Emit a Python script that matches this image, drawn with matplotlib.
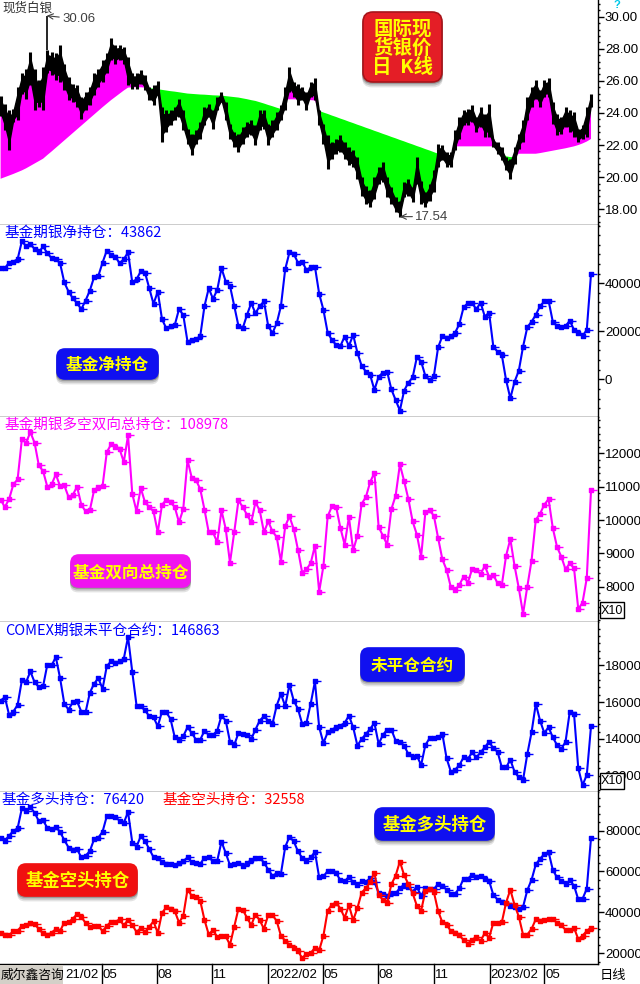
import numpy as np
import pandas as pd
import matplotlib
matplotlib.use('Agg')
import matplotlib.pyplot as plt
import matplotlib.dates as mdates
import matplotlib.transforms as mtrans
from matplotlib.patches import FancyBboxPatch, Rectangle
from matplotlib.ticker import MultipleLocator, FixedLocator, FuncFormatter
from matplotlib.path import Path

plt.rcParams['font.family'] = ['Noto Sans CJK SC', 'DejaVu Sans']

# ---------------- data (weekly, starting 2020-11-17) ----------------
week_start = '2020-11-17'

price_high = [25.04, 24.58, 24.17, 24.27, 25.63, 26.46, 26.77, 27.81, 26.77, 26.04,
              26.88, 27.90, 27.81, 27.71, 28.23, 27.08, 26.25, 25.83, 25.73, 25.00,
              25.31, 25.63, 26.46, 26.77, 27.29, 27.71, 28.65, 28.23, 28.23, 28.13,
              27.50, 26.46, 26.46, 26.67, 26.35, 25.63, 25.73, 26.00, 24.38, 24.17,
              24.17, 24.38, 24.90, 24.17, 23.02, 22.71, 22.92, 23.44, 24.38, 24.58,
              24.17, 25.00, 25.31, 24.69, 23.33, 22.81, 22.71, 23.13, 23.44, 23.54,
              23.23, 24.17, 24.17, 23.33, 23.54, 24.06, 24.48, 25.63, 26.88, 25.94,
              25.83, 25.63, 25.31, 25.94, 26.15, 24.17, 23.33, 22.60, 22.19, 22.40,
              22.60, 22.19, 21.88, 21.67, 21.25, 20.00, 19.48, 19.17, 20.00, 20.63,
              20.94, 20.00, 19.38, 18.75, 18.54, 19.69, 19.90, 19.38, 21.25, 19.79,
              19.06, 19.58, 20.42, 22.08, 21.98, 21.56, 21.56, 22.92, 23.75, 24.17,
              24.27, 24.48, 23.75, 24.38, 23.96, 24.58, 22.40, 22.19, 21.88, 21.25,
              21.15, 21.88, 22.71, 23.54, 25.00, 25.63, 26.04, 25.42, 26.04, 26.15,
              24.69, 23.96, 23.75, 24.38, 24.17, 24.06, 23.02, 23.23, 24.38, 25.21]

price_low = [23.79, 22.92, 21.67, 23.44, 23.54, 25.21, 24.90, 25.73, 24.17, 24.38,
             24.17, 26.46, 26.35, 26.04, 25.94, 25.42, 24.79, 24.69, 24.38, 23.65,
             24.17, 24.48, 25.10, 25.63, 25.94, 26.46, 27.29, 27.08, 27.29, 27.08,
             25.73, 25.52, 25.52, 25.83, 25.42, 24.79, 24.48, 25.10, 22.19, 22.81,
             23.23, 23.54, 23.75, 22.92, 22.08, 21.35, 22.08, 22.40, 23.23, 23.75,
             23.02, 24.17, 24.69, 23.54, 22.40, 21.88, 21.56, 22.08, 22.50, 22.60,
             21.98, 22.92, 23.02, 21.98, 22.50, 22.92, 23.54, 24.17, 25.31, 25.00,
             24.48, 24.79, 24.17, 25.00, 24.79, 23.23, 22.08, 20.52, 21.15, 21.46,
             21.56, 21.15, 20.73, 20.63, 19.90, 18.85, 18.33, 18.13, 18.65, 19.58,
             19.69, 18.75, 18.33, 17.81, 17.54, 18.75, 18.85, 18.44, 19.58, 18.33,
             18.13, 18.54, 19.06, 20.63, 21.04, 20.63, 20.63, 21.67, 22.40, 23.23,
             23.23, 23.44, 22.81, 23.13, 22.50, 22.50, 21.88, 21.46, 21.04, 20.42,
             19.90, 20.83, 21.77, 22.19, 23.54, 24.38, 24.90, 24.38, 25.00, 25.00,
             23.33, 22.60, 22.71, 23.13, 22.81, 22.50, 22.19, 22.40, 22.50, 24.38]

trend_line = [19.90, 20.00, 20.10, 20.20, 20.31, 20.42, 20.55, 20.70, 20.85, 21.00,
              21.15, 21.38, 21.60, 21.83, 22.06, 22.29, 22.52, 22.75, 22.98, 23.21,
              23.44, 23.67, 23.90, 24.13, 24.36, 24.58, 24.80, 25.00, 25.20, 25.40,
              25.58, 25.60, 25.60, 25.60, 25.58,
              25.55, 25.52, 25.48, 25.44, 25.40, 25.36, 25.33, 25.29, 25.25, 25.21,
              25.19, 25.17, 25.15, 25.14, 25.12, 25.10, 25.09, 25.08, 25.05, 25.02,
              24.99, 24.96, 24.91, 24.86, 24.80, 24.75, 24.67, 24.59, 24.50, 24.42,
              24.33, 24.25,
              24.85, 24.85, 24.85, 24.85, 24.82, 24.80, 24.80, 24.78,
              24.13, 24.03, 23.94, 23.84, 23.75, 23.65, 23.56, 23.46, 23.37, 23.27,
              23.18, 23.08, 22.99, 22.89, 22.80, 22.70, 22.61, 22.51, 22.42, 22.32,
              22.23, 22.13, 22.04, 21.94, 21.85, 21.75, 21.66, 21.56, 21.46,
              21.45, 21.05, 21.05,
              21.92, 21.92, 21.92, 21.92, 21.92, 21.92, 21.92, 21.92, 21.92, 21.92,
              21.92, 21.50, 21.30, 21.25, 21.25,
              21.46, 21.46, 21.46, 21.46, 21.46,
              21.50, 21.55, 21.60, 21.65, 21.70, 21.75, 21.80, 21.86, 21.92, 22.00,
              22.10, 22.22, 22.38]

spike_date, spike_high = '2021-02-01', 30.06

fund_net = [46250, 46250, 48600, 49000, 50000, 57400, 55500, 56400, 54200, 52800,
            55300, 52500, 50400, 50100, 48300, 40300, 36500, 33750, 31700, 29200,
            32800, 36900, 42500, 43000, 48600, 53600, 51800, 51100, 48300, 50000,
            52800, 40300, 41700, 44900, 44400, 37900, 31400, 36500, 25000, 21250,
            22200, 22600, 29200, 26800, 15700, 16400, 16700, 18000, 30500, 37900,
            33500, 37200, 46250, 40700, 38900, 30500, 22200, 21250, 26800, 31700,
            27500, 30500, 32400, 22200, 19200, 23300, 30500, 45800, 52800, 52200,
            48600, 49000, 45500, 46700, 46900, 35600, 28900, 19400, 16400, 14300,
            13900, 17800, 13900, 18500, 11100, 5600, 3200, 1800, -4400, 1100,
            2800, 3200, -4200, -8600, -13000, -4700, -1400, 800, 9200, 7400,
            1400, -300, 1400, 13300, 18000, 17100, 18000, 19400, 23000, 30000,
            31700, 31700, 29200, 31900, 26100, 27800, 13600, 11500, 10100, -300,
            -7900, -1000, 3600, 13600, 21700, 24000, 26800, 30500, 32400, 32800,
            24000, 22200, 21700, 22200, 24400, 20600, 19400, 18000, 20600, 43862]

fund_total = [106100, 103900, 106300, 110700, 112200, 124200, 123200, 126400, 123200, 116400,
              114700, 110000, 110700, 113700, 110200, 110400, 106900, 107600, 110000, 104600,
              102600, 102900, 108900, 110000, 110200, 120400, 122700, 122000, 121400, 117400,
              125400, 107900, 102600, 109600, 105300, 103900, 102600, 96300, 104600, 106100,
              105300, 103900, 99300, 103300, 118000, 112700, 112000, 109300, 103100, 96300,
              96300, 93300, 102900, 97300, 87200, 96300, 105900, 103900, 101600, 99300,
              105300, 102900, 96300, 99600, 96600, 94900, 87500, 98100, 101100, 97300,
              91100, 84200, 85200, 87000, 92300, 78500, 86200, 101100, 104100, 103900,
              97600, 92600, 100900, 90900, 95300, 104900, 106900, 111400, 114200, 97900,
              95300, 92600, 103300, 107300, 116700, 111700, 106300, 99600, 95600, 89000,
              102300, 102900, 101300, 94600, 88200, 85000, 79800, 79000, 80500, 83000,
              81200, 85200, 85000, 83800, 86200, 83000, 83500, 81000, 80500, 89200,
              94300, 86200, 79500, 71800, 80000, 87800, 100100, 101900, 104600, 106300,
              97600, 91900, 89000, 85200, 87000, 85500, 73200, 75200, 82500, 108978]

comex_oi = [160900, 162700, 153100, 154900, 158500, 171800, 170900, 176700, 170900, 168200,
            168700, 180400, 180000, 184500, 173100, 159100, 156000, 160000, 160400, 154900,
            154500, 165100, 170000, 173100, 167300, 179600, 182200, 181500, 182200, 183600,
            195500, 176400, 158200, 157800, 155500, 152400, 151800, 146900, 154900, 154500,
            150900, 140900, 139600, 141500, 146400, 143300, 139600, 139600, 144500, 142200,
            142200, 144500, 152700, 150000, 138500, 136700, 143300, 142700, 142200, 140000,
            145100, 150000, 152400, 150000, 148200, 158200, 164500, 157800, 169500, 160900,
            156400, 148200, 148700, 159100, 171300, 146400, 137800, 143600, 145100, 146400,
            147300, 148700, 152700, 146400, 136400, 140000, 142700, 145500, 148700, 137300,
            142200, 145100, 145100, 139100, 138500, 136400, 131800, 130000, 130900, 125800,
            136700, 140400, 140400, 140900, 142700, 129500, 122200, 123300, 125800, 130000,
            129100, 132700, 130000, 132700, 135500, 138500, 134900, 133100, 124500, 124500,
            128700, 122200, 119100, 117800, 131800, 143600, 159100, 150000, 143300, 146400,
            140900, 136700, 134500, 138500, 154900, 153600, 124000, 114900, 120400, 146863]

x_ticks = ['2021-02-01', '2021-05-03', '2021-08-02', '2021-11-01', '2022-02-01',
           '2022-05-02', '2022-08-01', '2022-11-01', '2023-02-01', '2023-05-02']
x_labels = ['21/02', '05', '08', '11', '2022/02', '05', '08', '11', '2023/02', '05']

# long / short are the two legs: net = long - short, total = long + short
fund_long = (np.array(fund_total) + np.array(fund_net)) / 2.0
fund_short = (np.array(fund_total) - np.array(fund_net)) / 2.0

def wk(arr):
    return pd.date_range(week_start, periods=len(arr), freq='7D')

# ---------------- figure ----------------
W, H = 640, 984
fig = plt.figure(figsize=(W / 100, H / 100), dpi=100)
fig.patch.set_facecolor('white')

DAYS_PER_PX = 1.648
x_left = mdates.date2num(pd.Timestamp('2020-11-16'))
x_right = x_left + 598 * DAYS_PER_PX
AXW = 598

def add_panel(top, bottom):
    return fig.add_axes([0, 1 - bottom / H, AXW / W, (bottom - top) / H])

panels = [(0, 224.5), (224.5, 416.7), (416.7, 622), (622, 791.5), (791.5, 964)]
axes = [add_panel(t, b) for t, b in panels]
ax1, ax2, ax3, ax4, ax5 = axes

TICKFONT = 'Liberation Sans'
for ax in axes:
    ax.set_xlim(x_left, x_right)
    ax.spines['left'].set_visible(False)
    ax.spines['top'].set_visible(False)
    ax.spines['right'].set_linewidth(1.0)
    ax.spines['bottom'].set_linewidth(1.0)
    ax.yaxis.tick_right()
    ax.tick_params(axis='x', which='both', bottom=False, labelbottom=False)
    ax.tick_params(axis='y', which='major', direction='out', length=4, width=1,
                   pad=1, labelsize=9.5, labelfontfamily=TICKFONT, colors='black')
    ax.tick_params(axis='y', which='minor', direction='out', length=1.5, width=1)

# ---- panel 1: silver price ----
pw = wk(price_high)
hi = np.array(price_high)
lo = np.array(price_low)
tr = np.array(trend_line)
mid = (hi + lo) / 2
rng = hi - lo
ax1.fill_between(pw, tr, mid, where=mid >= tr, interpolate=True,
                 color='#FF00FF', lw=0, zorder=1)
ax1.fill_between(pw, tr, mid, where=mid < tr, interpolate=True,
                 color='#00FF00', lw=0, zorder=1)
# candle body band + weekly wicks
ax1.fill_between(pw, lo + 0.2 * rng, hi - 0.2 * rng, color='black', lw=1.0,
                 edgecolor='black', zorder=2)
ax1.vlines(pw, lo, hi, color='black', lw=2.2, zorder=2)
ax1.vlines(pd.Timestamp(spike_date), hi[11], spike_high, color='black', lw=1.2, zorder=2)
ax1.set_ylim(17.05, 31.04)
ax1.yaxis.set_major_locator(FixedLocator([18, 20, 22, 24, 26, 28, 30]))
ax1.yaxis.set_minor_locator(MultipleLocator(0.4))
ax1.yaxis.set_major_formatter(FuncFormatter(lambda v, p: f'{v:.2f}'))
ax1.annotate(f'{spike_high:.2f}', xy=(pd.Timestamp(spike_date), spike_high),
             xytext=(11, -2.5), textcoords='offset points', ha='left', va='center',
             fontsize=9.5, family=TICKFONT, color='#404040',
             arrowprops=dict(arrowstyle='->', color='#404040', lw=0.8,
                             shrinkA=0, shrinkB=0))
kmin = int(np.argmin(lo))
ax1.annotate(f'{lo[kmin]:.2f}', xy=(pw[kmin], lo[kmin]),
             xytext=(11, 0), textcoords='offset points', ha='left', va='center',
             fontsize=9.5, family=TICKFONT, color='#404040',
             arrowprops=dict(arrowstyle='->', color='#404040', lw=0.8,
                             shrinkA=0, shrinkB=0))

# custom marker: square with a small dash to the right
mverts = [(-1, -1), (1, -1), (1, 1), (-1, 1), (-1, -1), (1, 0), (3, 0)]
mcodes = [Path.MOVETO, Path.LINETO, Path.LINETO, Path.LINETO, Path.CLOSEPOLY,
          Path.MOVETO, Path.LINETO]
MK = Path(mverts, mcodes)

def series(ax, x, y, color):
    ax.plot(x, y, color=color, lw=1.5, marker=MK, ms=8, mew=1, mfc=color, mec=color)

# ---- panel 2: net ----
series(ax2, wk(fund_net), fund_net, '#0000FF')
ax2.set_ylim(-15560, 64440)
ax2.yaxis.set_major_locator(FixedLocator([0, 20000, 40000]))
ax2.yaxis.set_minor_locator(MultipleLocator(4000))
ax2.yaxis.set_major_formatter(FuncFormatter(lambda v, p: f'{v:.0f}'))

# ---- panel 3: total (x10) ----
series(ax3, wk(fund_total), np.array(fund_total) / 10, '#FF00FF')
ax3.set_ylim(6935, 13105)
ax3.yaxis.set_major_locator(FixedLocator([8000, 9000, 10000, 11000, 12000]))
ax3.yaxis.set_minor_locator(MultipleLocator(200))
ax3.yaxis.set_major_formatter(FuncFormatter(lambda v, p: f'{v:.0f}'))

# ---- panel 4: COMEX OI (x10) ----
series(ax4, wk(comex_oi), np.array(comex_oi) / 10, '#0000FF')
ax4.set_ylim(11145, 20360)
ax4.yaxis.set_major_locator(FixedLocator([12000, 14000, 16000, 18000]))
ax4.yaxis.set_minor_locator(MultipleLocator(400))
ax4.yaxis.set_major_formatter(FuncFormatter(lambda v, p: f'{v:.0f}'))

# ---- panel 5: long / short ----
series(ax5, wk(fund_long), fund_long, '#0000FF')
series(ax5, wk(fund_short), fund_short, '#FF0000')
ax5.set_ylim(14780, 99070)
ax5.yaxis.set_major_locator(FixedLocator([20000, 40000, 60000, 80000]))
ax5.yaxis.set_minor_locator(MultipleLocator(4000))
ax5.yaxis.set_major_formatter(FuncFormatter(lambda v, p: f'{v:.0f}'))

# ---------------- x axis labels ----------------
bt = mtrans.blended_transform_factory(ax5.transData, fig.transFigure)
for d, lab in zip(x_ticks, x_labels):
    xd = mdates.date2num(pd.Timestamp(d))
    ax5.plot([xd, xd], [1 - 964 / H, 1 - 983 / H], transform=bt, color='black',
             lw=1.0, clip_on=False)
    # first label: its century digits sit under the corner tag, only "21/02" shows
    shift = 19.0 * DAYS_PER_PX if lab == '21/02' else 1.2
    ax5.text(xd + shift, 1 - 975 / H, lab, transform=bt, ha='left', va='center',
             fontsize=9.5, family=TICKFONT, color='black', clip_on=False)

# ---------------- helpers for text in pixel coords ----------------
def ptext(x, y, s, **kw):
    return fig.text(x / W, 1 - y / H, s, **kw)

def label_box(x0, y0, x1, y1, txt, fc, fs, ec=None, ls=1.0, rs=0.08):
    X, Y = x0 / 100, (H - y1) / 100
    w, h = (x1 - x0) / 100, (y1 - y0) / 100
    for i, a in enumerate([0.12, 0.18, 0.28]):
        off = (3 - i) * 0.018
        sh = FancyBboxPatch((X - 0.01, Y - off), w + 0.02, h,
                            boxstyle=f'round,pad=0,rounding_size={rs}',
                            transform=fig.dpi_scale_trans, fc='#202020', ec='none',
                            alpha=a, zorder=5)
        fig.add_artist(sh)
    main = FancyBboxPatch((X, Y), w, h, boxstyle=f'round,pad=0,rounding_size={rs}',
                          transform=fig.dpi_scale_trans, fc=fc, ec=ec or fc, lw=1.2,
                          zorder=6)
    fig.add_artist(main)
    ptext((x0 + x1) / 2, (y0 + y1) / 2 + 1, txt, ha='center', va='center',
          color='#FFFF00', fontsize=fs, fontweight='bold', linespacing=ls, zorder=7)

# price box
label_box(363, 12, 442, 82, '国际现\n货银价\n日  K线', '#E41E26', 14, ec='#A8141A',
          ls=1.0, rs=0.1)
label_box(57, 349, 158, 379, '基金净持仓', '#1010F0', 12)
label_box(71, 555, 190, 587, '基金双向总持仓', '#F014F0', 12)
label_box(361, 648, 464, 681, '未平仓合约', '#1010F0', 12)
label_box(375, 808, 494, 840, '基金多头持仓', '#1010F0', 12.5)
label_box(18, 864, 137, 896, '基金空头持仓', '#F01010', 12.5)

# panel titles
TS = 10.5
ptext(2, 8, '现货白银', fontsize=9, color='#333333', va='center', ha='left', zorder=8)
ptext(5, 233, f'基金期银净持仓：{fund_net[-1]}', fontsize=TS, color='#0000FF',
      va='center', ha='left', zorder=8)
ptext(5, 425, f'基金期银多空双向总持仓：{fund_total[-1]}', fontsize=TS, color='#FF00FF',
      va='center', ha='left', zorder=8)
ptext(5, 631, f'COMEX期银未平仓合约：{comex_oi[-1]}', fontsize=TS, color='#0000FF',
      va='center', ha='left', zorder=8)
ptext(2, 800, f'基金多头持仓：{int(round(fund_long[-1]))}', fontsize=TS, color='#0000FF',
      va='center', ha='left', zorder=8)
ptext(163, 800, f'基金空头持仓：{int(round(fund_short[-1]))}', fontsize=TS, color='#FF0000',
      va='center', ha='left', zorder=8)

# X10 boxes
for (yb0, yb1) in [(602, 618), (773, 789)]:
    fig.add_artist(Rectangle(((600) / W, 1 - yb1 / H), 24 / W, (yb1 - yb0) / H,
                             transform=fig.transFigure, fc='white', ec='black',
                             lw=1.0, zorder=9))
    ptext(612, (yb0 + yb1) / 2 + 0.5, 'X10', fontsize=9, family=TICKFONT,
          ha='center', va='center', color='black', zorder=10)

# bottom-left tag, bottom-right tag, top-right mark
fig.add_artist(Rectangle((0, 1 - 984 / H), 63 / W, 19 / H, transform=fig.transFigure,
                         fc='#D4D0C8', ec='none', zorder=9))
ptext(1, 975, '威尔鑫咨询', fontsize=9.2, color='black', ha='left', va='center', zorder=10)
ptext(600, 975, '日线', fontsize=9.5, color='black', ha='left', va='center', zorder=10)
ptext(617, 5, '?', fontsize=8, color='#00C8E8', fontweight='bold', ha='center',
      va='center', family=TICKFONT, zorder=10)

fig.savefig('out.png', dpi=100, facecolor='white')
